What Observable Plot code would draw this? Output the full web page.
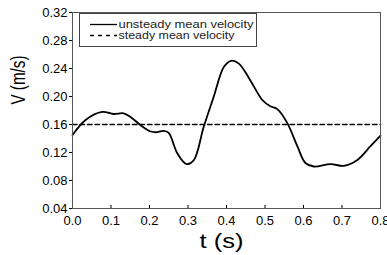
<!DOCTYPE html>
<html>
<head>
<meta charset="utf-8">
<script src="https://cdn.jsdelivr.net/npm/d3@7"></script>
<script src="https://cdn.jsdelivr.net/npm/@observablehq/plot@0.6"></script>
<style>
  html, body { margin: 0; padding: 0; background: #fff; overflow: hidden; }
  #wrap { position: relative; width: 387px; height: 255px; }
  #legend { position: absolute; left: 79px; top: 13px; width: 176px; height: 32px; border: 1px solid #444; background: #fff; }
</style>
</head>
<body>
<div id="wrap"></div>
<script>
// unsteady mean velocity
const tUnsteady = [0, 0.034, 0.077, 0.107, 0.133, 0.155, 0.177, 0.203, 0.22, 0.237, 0.25, 0.272, 0.296, 0.315, 0.341, 0.367, 0.393, 0.412, 0.432, 0.462, 0.493, 0.514, 0.532, 0.558, 0.584, 0.605, 0.627, 0.670, 0.705, 0.739, 0.774, 0.8];
const vUnsteady = [0.145, 0.1665, 0.178, 0.175, 0.176, 0.169, 0.159, 0.150, 0.149, 0.151, 0.148, 0.119, 0.1035, 0.109, 0.157, 0.200, 0.242, 0.251, 0.247, 0.223, 0.195, 0.186, 0.182, 0.162, 0.129, 0.105, 0.100, 0.1035, 0.101, 0.109, 0.129, 0.144];
// steady mean velocity
const tSteady = [0, 0.8];
const vSteady = [0.16, 0.16];
// ticks
const xTicks = [0, 0.1, 0.2, 0.3, 0.4, 0.5, 0.6, 0.7, 0.8];
const yTicks = [0.04, 0.08, 0.12, 0.16, 0.20, 0.24, 0.28, 0.32];
const seriesNames = ["unsteady mean velocity", "steady mean velocity"];
const xTitle = "t (s)";
const yTitle = "V (m/s)";

const unsteady = tUnsteady.map((t, i) => ({t, v: vUnsteady[i]}));
const steady = tSteady.map((t, i) => ({t, v: vSteady[i]}));

const chart = Plot.plot({
  width: 387,
  height: 255,
  marginLeft: 72,
  marginRight: 7,
  marginTop: 12,
  marginBottom: 47,
  x: {domain: [0, 0.8]},
  y: {domain: [0.04, 0.32]},
  style: {fontFamily: "Arial, 'Liberation Sans', sans-serif", fontSize: "13px", color: "#000", background: "#fff", overflow: "visible"},
  marks: [
    Plot.axisY({ticks: yTicks, tickFormat: ".2f", tickSize: 3, tickPadding: 2, label: null, fontSize: 13}),
    Plot.axisX({ticks: xTicks, tickFormat: ".1f", tickSize: -3, tickPadding: 10, label: null, fontSize: 13}),
    Plot.line(steady, {x: "t", y: "v", stroke: "#000", strokeWidth: 1.5, strokeDasharray: "4.5,3"}),
    Plot.line(unsteady, {x: "t", y: "v", stroke: "#000", strokeWidth: 1.8, curve: "catmull-rom"}),
    Plot.frame({stroke: "#555", strokeWidth: 1}),
    Plot.text([yTitle], {frameAnchor: "left", dx: -54, dy: -6, rotate: -90, fontSize: 21, fill: "#000"}),
    Plot.text([xTitle], {frameAnchor: "bottom", dx: -5, dy: 39, fontSize: 21, fill: "#000"})
  ]
});
document.getElementById("wrap").appendChild(chart);

// stretch axis titles to the reference's widths
d3.select(chart).selectAll("text").each(function() {
  if (this.textContent === xTitle) {
    this.setAttribute("textLength", 44);
    this.setAttribute("lengthAdjust", "spacingAndGlyphs");
  } else if (this.textContent === yTitle) {
    this.setAttribute("textLength", 49);
    this.setAttribute("lengthAdjust", "spacingAndGlyphs");
  }
});

// legend box
const legend = document.createElement("div");
legend.id = "legend";
legend.innerHTML = `<svg width="176" height="32" style="display:block;font-family:Arial,'Liberation Sans',sans-serif">
  <line x1="10" x2="37" y1="10.5" y2="10.5" stroke="#000" stroke-width="1.3"/>
  <line x1="10" x2="37" y1="21.5" y2="21.5" stroke="#000" stroke-width="1.3" stroke-dasharray="4,4"/>
  <text x="38.5" y="14" font-size="11" fill="#222" textLength="135" lengthAdjust="spacingAndGlyphs">${seriesNames[0]}</text>
  <text x="38.5" y="25" font-size="11" fill="#222" textLength="116" lengthAdjust="spacingAndGlyphs">${seriesNames[1]}</text>
</svg>`;
document.getElementById("wrap").appendChild(legend);
</script>
</body>
</html>
